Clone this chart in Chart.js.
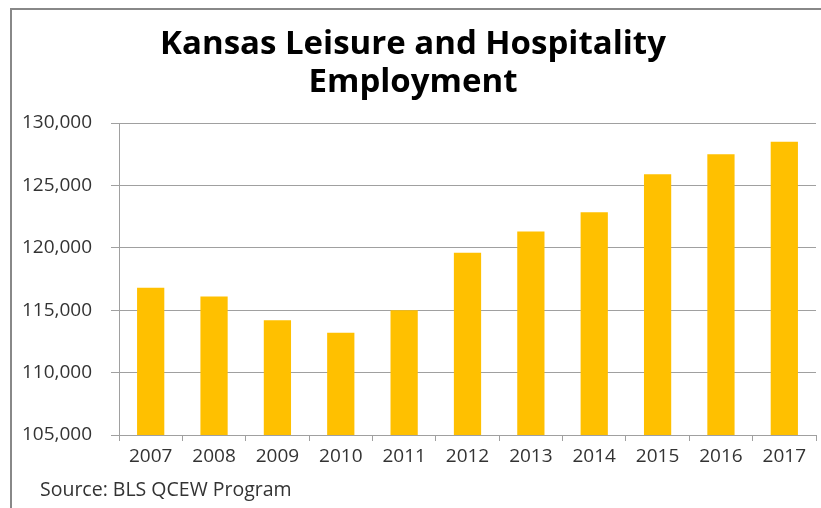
<!DOCTYPE html>
<html>
<head>
<meta charset="utf-8">
<script src="https://cdn.jsdelivr.net/npm/chart.js@4/dist/chart.umd.min.js"></script>
<style>
  html, body { margin:0; padding:0; background:#fff; overflow:hidden; }
  #wrap { position:relative; width:821px; height:508px; }
</style>
</head>
<body>
<div id="wrap"><canvas id="chart" width="821" height="508"></canvas></div>
<script>

// data
const years  = ['2007','2008','2009','2010','2011','2012','2013','2014','2015','2016','2017']
const jobs   = [116800, 116100, 114200, 113200, 115000, 119600, 121300, 122850, 125900, 127500, 128500]
const yTicks = [105000, 110000, 115000, 120000, 125000, 130000]

const titleLines = ['Kansas Leisure and Hospitality', 'Employment']
const sourceText = 'Source: BLS QCEW Program'

const FONT   = "'Open Sans', sans-serif"
const GRID   = '#a0a0a0'
const TXT    = '#333333'


//gray frame + source line, drawn straight on the canvas
const decorPlugin = {
      id: 'decor',
      beforeDraw: (chart)=>{
            const ctx = chart.ctx
            ctx.save()
            ctx.strokeStyle = '#888888'
            ctx.lineWidth = 2
            ctx.strokeRect(11, 9, 1000, 1000)
            ctx.restore()
      },
      afterDraw: (chart)=>{
            const ctx = chart.ctx
            ctx.save()
            ctx.font = '19.5px ' + FONT
            ctx.fillStyle = TXT
            ctx.textBaseline = 'middle'
            ctx.textAlign = 'left'
            ctx.fillText(sourceText, 40, 490)
            ctx.restore()
      }
}


function createBar(){

      const setup = {
            type: 'bar',
            data: {
                  labels: years,
                  datasets: [{
                        label: 'Employment',
                        data: jobs,
                        backgroundColor: '#FFC000',
                        borderWidth: 0,
                        barPercentage: 0.43,
                        categoryPercentage: 1,
                  }]
            },/*data*/
            options: {
                  responsive: false,
                  animation: false,
                  layout: { padding: { left: 10, right: 5, top: 0, bottom: 0 } },
                  plugins: {
                        legend: { display: false },
                        tooltip: { enabled: false },
                        title: {
                              display: true,
                              text: titleLines,
                              color: '#000',
                              font: { family: FONT, size: 33, weight: 'bold', lineHeight: 38/33 },
                              padding: { top: 26, bottom: 21 },
                        },
                  },
                  scales: {
                        x: {
                              grid: { display: true, drawOnChartArea: false, offset: true, tickLength: 6, color: GRID },
                              border: { display: false },
                              ticks: { color: TXT, font: { family: FONT, size: 19 }, padding: 4, maxRotation: 0 },
                              afterFit: (axis)=>{ axis.height = 73 },
                        },
                        y: {
                              min: 105000,
                              max: 130000,
                              afterBuildTicks: (axis)=>{ axis.ticks = yTicks.map(v => ({ value: v })) },
                              grid: { color: GRID, tickLength: 8 },
                              border: { display: true, color: GRID },
                              ticks: {
                                    color: TXT,
                                    font: { family: FONT, size: 19 },
                                    padding: 19,
                                    callback: (v)=> v.toLocaleString('en-US'),
                              },
                              afterFit: (axis)=>{ axis.width = 109 },
                        }
                  }
            },
            plugins: [decorPlugin]
      }

      return new Chart(document.getElementById('chart'), setup)
}

createBar()

</script>
</body>
</html>
